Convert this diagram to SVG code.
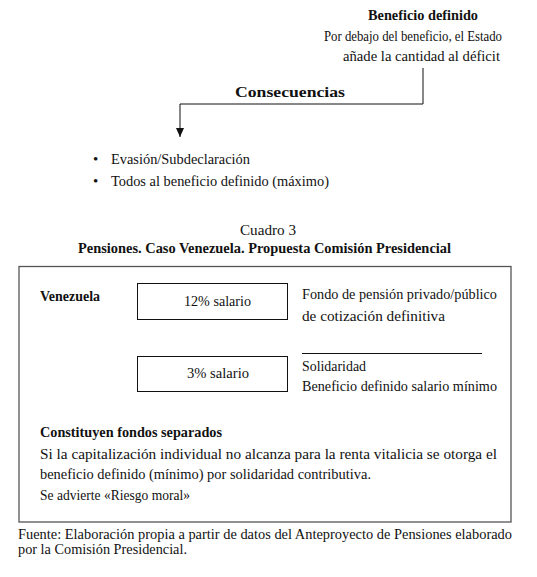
<svg xmlns="http://www.w3.org/2000/svg" width="537" height="577" viewBox="0 0 537 577" font-family="'Liberation Serif', 'DejaVu Serif', serif">
<style>
text{font-family:'Liberation Serif','DejaVu Serif',serif;font-size:15px;fill:#111}
.b{font-weight:bold}
.ln{fill:none;stroke:#111;stroke-width:1}
</style>
<defs>
<marker id="arr" markerWidth="9" markerHeight="8" refX="9" refY="4" orient="auto" markerUnits="userSpaceOnUse"><path d="M0,0 L9,4 L0,8 Z" fill="#111"/></marker>
</defs>
<rect width="537" height="577" fill="#fff"/>
<g id="beneficio">
<text class="b" x="368" y="20" textLength="110" lengthAdjust="spacingAndGlyphs">Beneficio definido</text>
<text x="324" y="41" textLength="178" lengthAdjust="spacingAndGlyphs">Por debajo del beneficio, el Estado</text>
<text x="343" y="61" textLength="157" lengthAdjust="spacingAndGlyphs">añade la cantidad al déficit</text>
</g>
<g id="connectors">
<polyline class="ln" points="423,68 423,104 180,104 180,137" marker-end="url(#arr)"/>
<text class="b" x="235" y="97" textLength="110" lengthAdjust="spacingAndGlyphs">Consecuencias</text>
</g>
<g id="consecuencias">
<text x="93" y="164">•</text>
<text x="111" y="164" textLength="139" lengthAdjust="spacingAndGlyphs">Evasión/Subdeclaración</text>
<text x="93" y="186">•</text>
<text x="111" y="186" textLength="218" lengthAdjust="spacingAndGlyphs">Todos al beneficio definido (máximo)</text>
</g>
<g id="titulo">
<text x="240" y="235" textLength="56" lengthAdjust="spacingAndGlyphs">Cuadro 3</text>
<text class="b" x="78" y="253" textLength="373" lengthAdjust="spacingAndGlyphs">Pensiones. Caso Venezuela. Propuesta Comisión Presidencial</text>
</g>
<g id="cuadro">
<rect x="19" y="266.5" width="492" height="255.5" fill="none" stroke="#555" stroke-width="1.3"/>
<text class="b" x="40" y="301" textLength="60" lengthAdjust="spacingAndGlyphs">Venezuela</text>
</g>
<g id="box12">
<rect class="ln" x="137.5" y="283.5" width="150" height="36"/>
<text x="184" y="306" textLength="67" lengthAdjust="spacingAndGlyphs">12% salario</text>
</g>
<g id="fondo">
<text x="302" y="299" textLength="195" lengthAdjust="spacingAndGlyphs">Fondo de pensión privado/público</text>
<text x="302" y="321" textLength="143" lengthAdjust="spacingAndGlyphs">de cotización definitiva</text>
</g>
<g id="box3">
<rect class="ln" x="137.5" y="356.5" width="150" height="35"/>
<text x="187" y="378" textLength="62" lengthAdjust="spacingAndGlyphs">3% salario</text>
</g>
<g id="solidaridad">
<line class="ln" x1="302" y1="353.5" x2="482" y2="353.5"/>
<text x="302" y="371" textLength="64" lengthAdjust="spacingAndGlyphs">Solidaridad</text>
<text x="302" y="391" textLength="195" lengthAdjust="spacingAndGlyphs">Beneficio definido salario mínimo</text>
</g>
<g id="notas">
<text class="b" x="40" y="437" textLength="182" lengthAdjust="spacingAndGlyphs">Constituyen fondos separados</text>
<text x="40" y="459" textLength="457" lengthAdjust="spacingAndGlyphs">Si la capitalización individual no alcanza para la renta vitalicia se otorga el</text>
<text x="40" y="479" textLength="331" lengthAdjust="spacingAndGlyphs">beneficio definido (mínimo) por solidaridad contributiva.</text>
<text x="40" y="500" textLength="150" lengthAdjust="spacingAndGlyphs">Se advierte «Riesgo moral»</text>
</g>
<g id="fuente">
<text x="18" y="539" textLength="494" lengthAdjust="spacingAndGlyphs">Fuente: Elaboración propia a partir de datos del Anteproyecto de Pensiones elaborado</text>
<text x="18" y="554" textLength="169" lengthAdjust="spacingAndGlyphs">por la Comisión Presidencial.</text>
</g>
</svg>
